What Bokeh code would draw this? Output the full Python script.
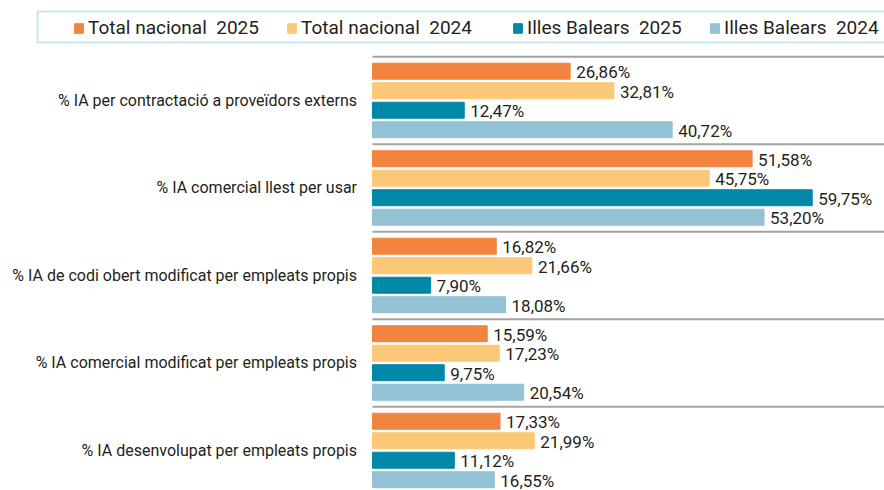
from bokeh.plotting import figure
from bokeh.models import Range1d, ColumnDataSource, BoxAnnotation, Legend, LegendItem
from bokeh.core.properties import value
from bokeh.embed import file_html
from bokeh.resources import INLINE

categories = [
    "% IA per contractació a proveïdors externs",
    "% IA comercial llest per usar",
    "% IA de codi obert modificat per empleats propis",
    "% IA comercial modificat per empleats propis",
    "% IA desenvolupat per empleats propis",
]
series = ["Total nacional\u00a0 2025", "Total nacional\u00a0 2024", "Illes Balears\u00a0 2025", "Illes Balears\u00a0 2024"]
total_nacional_2025 = [26.86, 51.58, 16.82, 15.59, 17.33]
total_nacional_2024 = [32.81, 45.75, 21.66, 17.23, 21.99]
illes_balears_2025 = [12.47, 59.75, 7.90, 9.75, 11.12]
illes_balears_2024 = [40.72, 53.20, 18.08, 20.54, 16.55]
colors = ["#F28440", "#FBC878", "#0088A9", "#93C2D4"]

values_by_series = [total_nacional_2025, total_nacional_2024, illes_balears_2025, illes_balears_2024]

FONT = "Roboto"
TXT = "#231F20"
W, H = 884, 490
G = 87.5 / 19.5  # group pitch in bar units
legend_x = [73, 286, 512, 709]  # screen x of each legend entry

p = figure(width=W, height=H, output_backend="svg", toolbar_location=None,
           x_range=Range1d(-50.54, 69.57), y_range=Range1d(21.50, -3.626),
           min_border=0, outline_line_color=None)
p.axis.visible = False
p.grid.visible = False

# separators between groups
sep_y = [g * G - (G - 3) / 2 for g in range(len(categories))]
p.segment(x0=0, x1=80, y0=sep_y, y1=sep_y, line_color="#A3A3A3", line_width=2)

bar_renderers = []
for i, (name, vals, col) in enumerate(zip(series, values_by_series, colors)):
    ys = [g * G + i for g in range(len(categories))]
    src = ColumnDataSource(dict(y=ys, v=vals,
                                lab=[f"{v:.2f}".replace(".", ",") + "%" for v in vals]))
    r = p.hbar(y="y", left=0, right="v", height=0.82, color=col, source=src)
    bar_renderers.append(r)
    p.text(x="v", y="y", text="lab", source=src, x_offset=6, y_offset=1,
           text_font=value(FONT), text_font_size="17px", text_color=TXT,
           text_baseline="middle", text_align="left")

cat_src = ColumnDataSource(dict(y=[g * G + 1.5 for g in range(len(categories))], t=categories))
p.text(x=-2.1, y="y", text="t", source=cat_src, text_font=value(FONT), text_font_size="16px",
       text_color=TXT, text_baseline="middle", text_align="right")

# legend entries, one per series
for name, r, lx in zip(series, bar_renderers, legend_x):
    lg = Legend(items=[LegendItem(label=name, renderers=[r])], location=(lx, 451),
                orientation="horizontal", padding=0, margin=0, glyph_width=11, glyph_height=12,
                label_standoff=4, label_text_font=FONT, label_text_font_size="19px",
                label_text_color=TXT, border_line_alpha=0, background_fill_alpha=0)
    p.add_layout(lg)

box = BoxAnnotation(left=37, right=W + 20, top=H - 11, bottom=H - 42,
                    left_units="screen", right_units="screen", top_units="screen", bottom_units="screen",
                    fill_alpha=0, line_color="#4AA8C2", line_width=2)
p.add_layout(box)

open("out.html", "w").write(file_html(p, INLINE))
